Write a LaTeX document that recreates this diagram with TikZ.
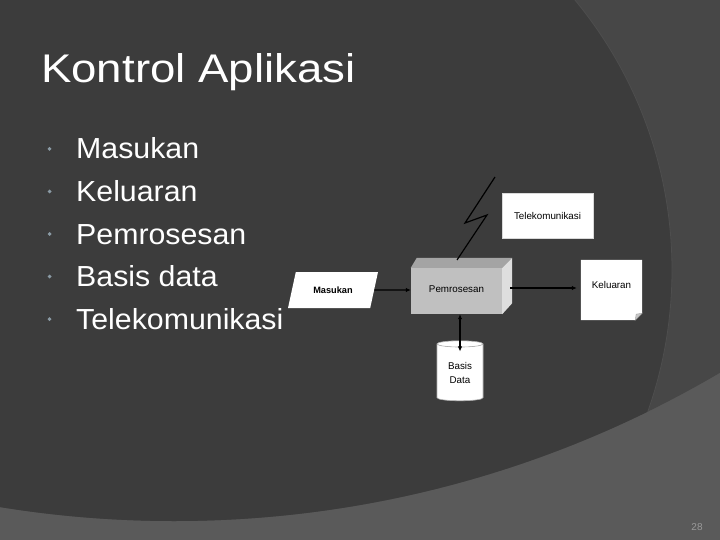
\documentclass[tikz,border=0pt]{standalone}
\usepackage{fontspec}
\setmainfont{Liberation Sans}
\usetikzlibrary{arrows.meta,shapes.geometric}
\definecolor{bgdark}{HTML}{3C3C3C}
\definecolor{bgband}{HTML}{474747}
\definecolor{bglight}{HTML}{5A5A5A}
\definecolor{edgehi}{HTML}{4E4E4E}
\definecolor{bulletc}{HTML}{8A9AA4}
\definecolor{frontc}{HTML}{C0C0C0}
\definecolor{topc}{HTML}{A4A4A4}
\definecolor{sidec}{HTML}{DEDEDE}
\definecolor{numc}{HTML}{9A9A9A}
\begin{document}
\begin{tikzpicture}[x=1pt,y=-1pt,
  lbl/.style={font=\fontsize{9.8}{14}\selectfont, text=black, inner sep=0, align=center},
  arr/.style={line width=1.4pt, -{Latex[length=5pt,width=4.5pt]}},
  darr/.style={line width=1.4pt, {Latex[length=5pt,width=4.5pt]}-{Latex[length=5pt,width=4.5pt]}},
  bul/.style={anchor=base west, inner sep=0, text=white, font=\fontsize{29}{29}\selectfont}
]
\useasboundingbox (0,0) rectangle (720,540);
% background
\fill[bglight] (0,0) rectangle (720,540);
\begin{scope}
  \clip (0,0) rectangle (720,540);
  \fill[bgband] (174,-557) circle[radius=1078pt];
  \clip (174,-557) circle[radius=1078pt];
  \fill[bgdark] (248,270) circle[radius=424pt];
  \draw[edgehi, line width=0.8pt] (248,270) circle[radius=424pt];
\end{scope}
% title
\node[anchor=base west, inner sep=0, text=white, font=\fontsize{40}{40}\selectfont] (title) at (41,83) {\scalebox{1.14}[1]{Kontrol Aplikasi}};
% bullets
\node[bul] (b1) at (76,159) {\scalebox{1.045}[1]{Masukan}};
\node[bul] (b2) at (76,201.5) {\scalebox{1.045}[1]{Keluaran}};
\node[bul] (b3) at (76,244) {\scalebox{1.045}[1]{Pemrosesan}};
\node[bul] (b4) at (76,286.5) {\scalebox{1.045}[1]{Basis data}};
\node[bul] (b5) at (76,329) {\scalebox{1.045}[1]{Telekomunikasi}};
\foreach \yy in {159,201.5,244,286.5,329}{
  \fill[bulletc] (49.5,\yy-12) -- (51.5,\yy-10) -- (49.5,\yy-8) -- (47.5,\yy-10) -- cycle;
}
% diagram
\node[trapezium, trapezium left angle=58.6, trapezium right angle=121.4, trapezium stretches=true,
      minimum width=90pt, minimum height=36pt, fill=white, inner sep=0,
      font=\bfseries\fontsize{9.2}{10}\selectfont] (masukan) at (333,290) {Masukan};
\node[fill=frontc, minimum width=91pt, minimum height=46pt, lbl] (proc) at (456.5,291) {\raisebox{3pt}{Pemrosesan}};
\fill[topc] (proc.north west) -- ([xshift=6pt,yshift=10pt]proc.north west) -- ([xshift=10pt,yshift=10pt]proc.north east) -- (proc.north east) -- cycle;
\fill[sidec] (proc.north east) -- ([xshift=10pt,yshift=10pt]proc.north east) -- ([xshift=10pt,yshift=11pt]proc.south east) -- (proc.south east) -- cycle;
\node[fill=white, draw=gray!30, minimum width=91pt, minimum height=45pt, lbl] (tele) at (547.5,215.5) {Telekomunikasi};
\node[minimum width=61pt, minimum height=60pt, inner sep=0] (kel) at (611.5,290) {};
\fill[white] (kel.north west) -- (kel.north east) -- ([yshift=7pt]kel.south east) -- ([xshift=-7pt]kel.south east) -- (kel.south west) -- cycle;
\filldraw[fill=gray!45, draw=gray!70, line width=0.4pt] ([yshift=7pt]kel.south east) -- ([xshift=-7pt]kel.south east) -- ([xshift=-6pt,yshift=6pt]kel.south east) -- cycle;
\node[lbl] (kellbl) at ([yshift=5pt]kel.center) {Keluaran};
\node[cylinder, shape border rotate=90, aspect=0.26, minimum width=46pt, minimum height=60pt,
      cylinder uses custom fill, cylinder body fill=white, cylinder end fill=white,
      draw=gray!60, line width=0.6pt, lbl] (db) at (460,372.5) {Basis\\Data};
% lightning
\draw[line width=1.2pt] (495,177) -- (465,223) -- (487,215) -- (457,260);
% connectors
\draw[arr] (masukan) -- (masukan.center -| proc.west);
\draw[arr, shorten <=8pt, shorten >=4pt] ([yshift=3pt]proc.east) -- ([yshift=3pt]proc.east -| kel.west);
\draw[darr] (db.north |- proc.south) -- ([yshift=-11pt]db.north);
% page number
\node[text=numc, font=\fontsize{10}{10}\selectfont, inner sep=0] (pg) at (697,527) {28};
\end{tikzpicture}
\end{document}
